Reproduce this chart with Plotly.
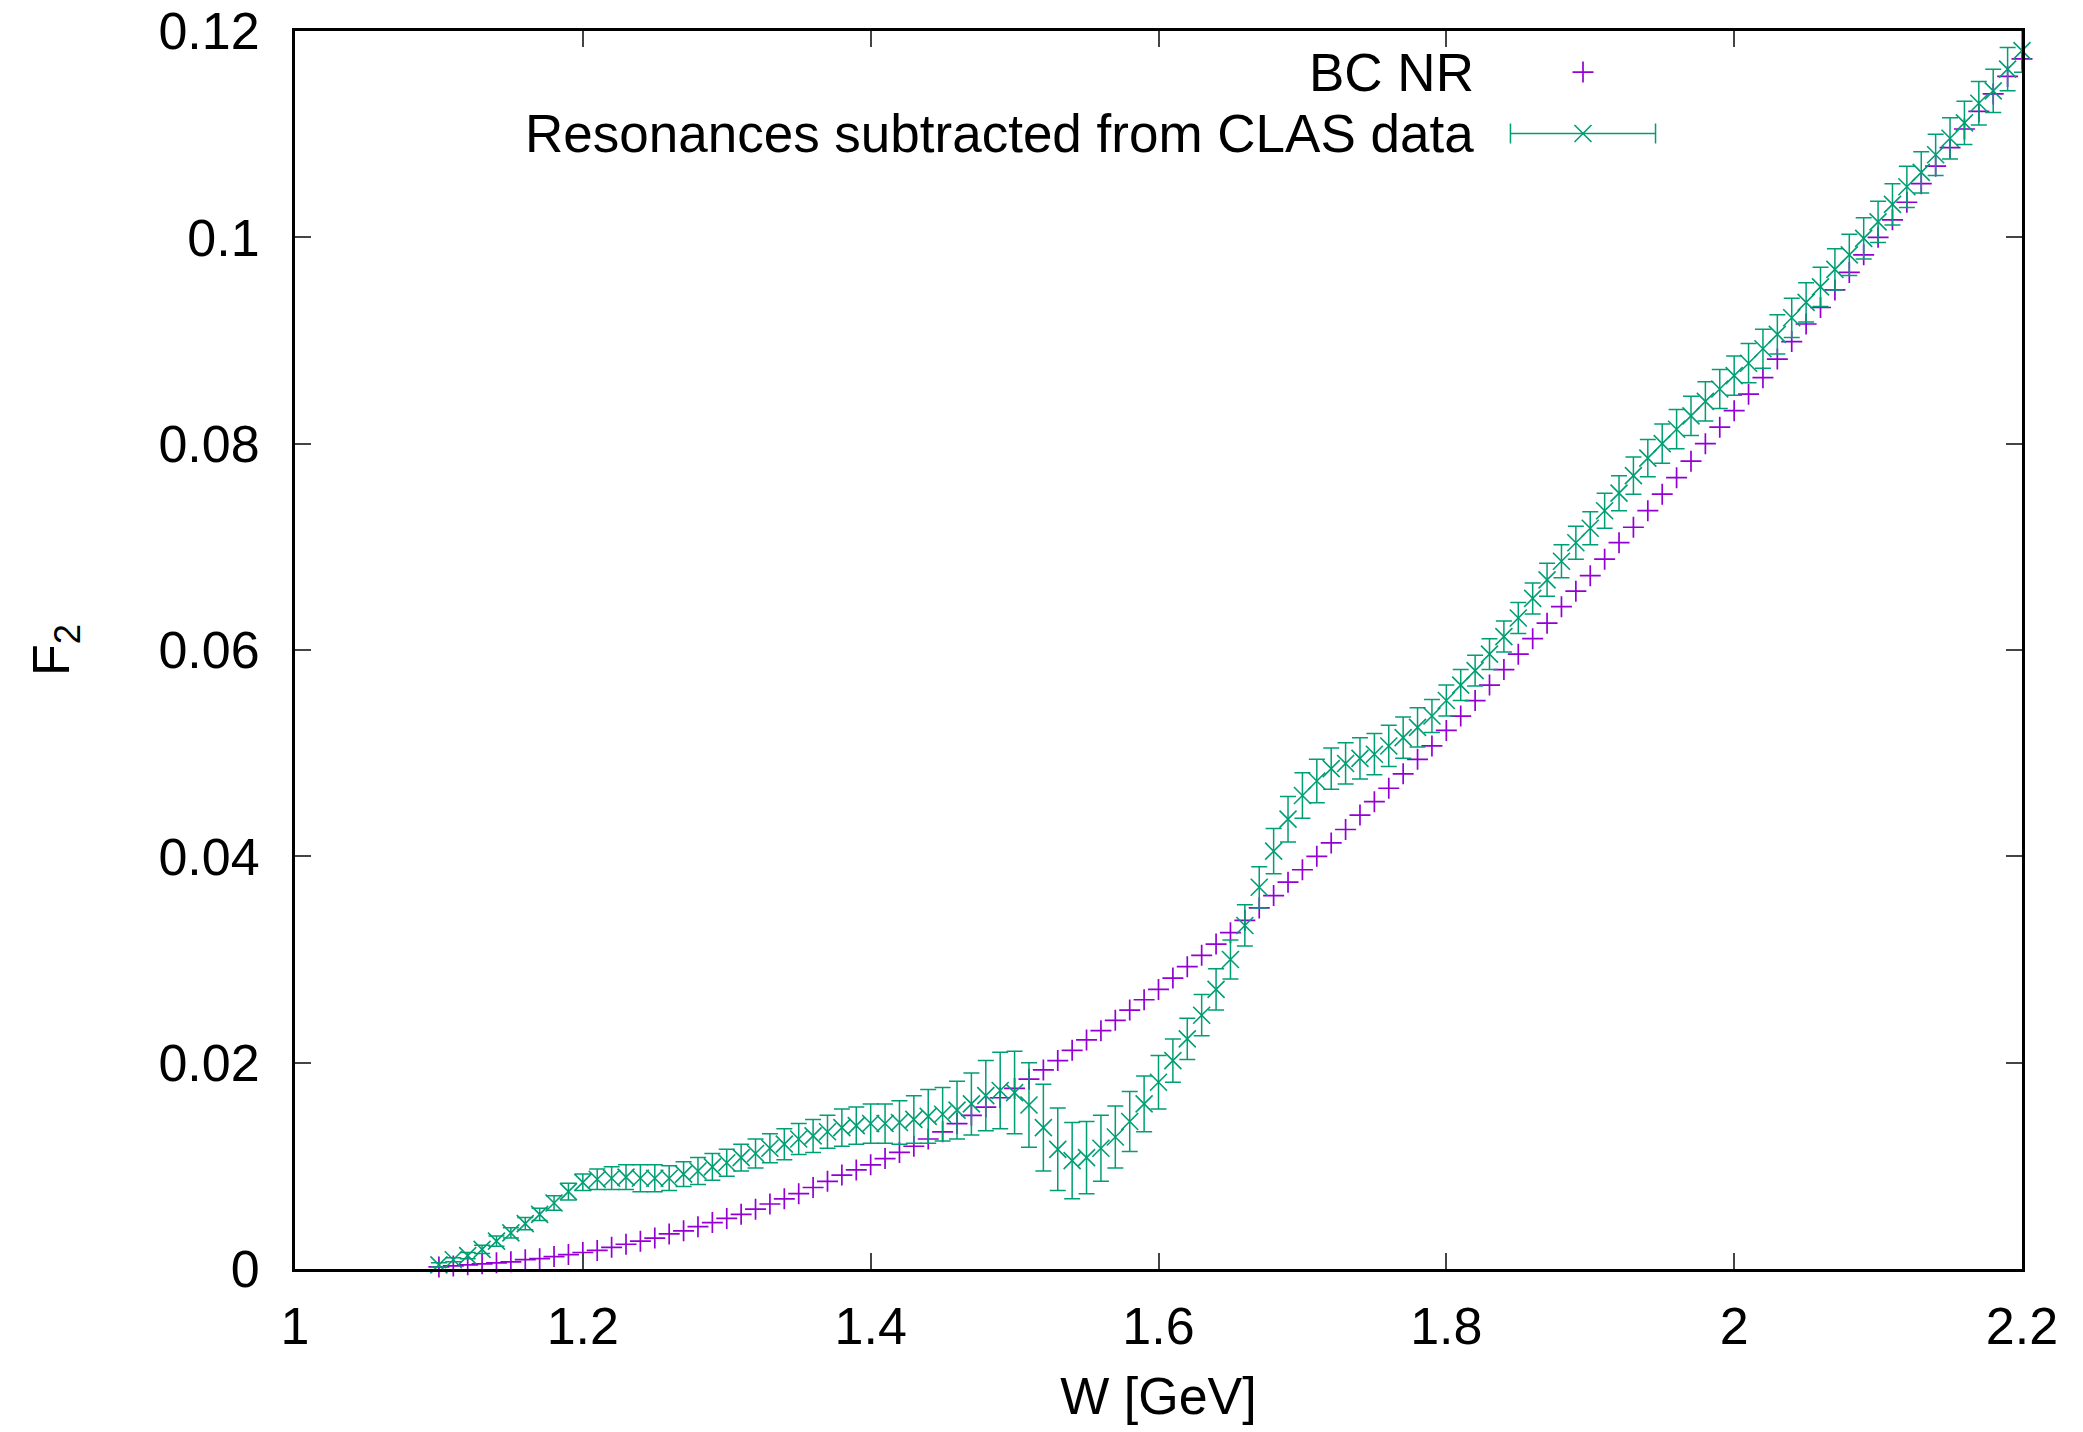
import plotly.graph_objects as go

# ---------------- data ----------------
W = [1.10, 1.11, 1.12, 1.13, 1.14, 1.15, 1.16, 1.17, 1.18, 1.19,
     1.20, 1.21, 1.22, 1.23, 1.24, 1.25, 1.26, 1.27, 1.28, 1.29,
     1.30, 1.31, 1.32, 1.33, 1.34, 1.35, 1.36, 1.37, 1.38, 1.39,
     1.40, 1.41, 1.42, 1.43, 1.44, 1.45, 1.46, 1.47, 1.48, 1.49,
     1.50, 1.51, 1.52, 1.53, 1.54, 1.55, 1.56, 1.57, 1.58, 1.59,
     1.60, 1.61, 1.62, 1.63, 1.64, 1.65, 1.66, 1.67, 1.68, 1.69,
     1.70, 1.71, 1.72, 1.73, 1.74, 1.75, 1.76, 1.77, 1.78, 1.79,
     1.80, 1.81, 1.82, 1.83, 1.84, 1.85, 1.86, 1.87, 1.88, 1.89,
     1.90, 1.91, 1.92, 1.93, 1.94, 1.95, 1.96, 1.97, 1.98, 1.99,
     2.00, 2.01, 2.02, 2.03, 2.04, 2.05, 2.06, 2.07, 2.08, 2.09,
     2.10, 2.11, 2.12, 2.13, 2.14, 2.15, 2.16, 2.17, 2.18, 2.19,
     2.20]

bc_nr = [0.0002, 0.0003, 0.0004, 0.0005, 0.0006, 0.0007, 0.0009, 0.0010, 0.0012, 0.0014,
         0.0016, 0.0018, 0.0021, 0.0024, 0.0027, 0.0030, 0.0034, 0.0037, 0.0041, 0.0045,
         0.0049, 0.0053, 0.0058, 0.0063, 0.0068, 0.0073, 0.0079, 0.0085, 0.0091, 0.0096,
         0.0101, 0.0107, 0.0113, 0.0119, 0.0126, 0.0133, 0.0141, 0.0149, 0.0157, 0.0166,
         0.0175, 0.0184, 0.0193, 0.0202, 0.0212, 0.0222, 0.0231, 0.0241, 0.0251, 0.0261,
         0.0271, 0.0282, 0.0293, 0.0304, 0.0315, 0.0326, 0.0338, 0.0350, 0.0362, 0.0375,
         0.0387, 0.0400, 0.0413, 0.0426, 0.0440, 0.0453, 0.0466, 0.0480, 0.0494, 0.0507,
         0.0522, 0.0536, 0.0551, 0.0566, 0.0581, 0.0596, 0.0611, 0.0626, 0.0642, 0.0657,
         0.0672, 0.0688, 0.0704, 0.0719, 0.0735, 0.0751, 0.0767, 0.0783, 0.0800, 0.0816,
         0.0832, 0.0848, 0.0864, 0.0882, 0.0899, 0.0916, 0.0932, 0.0949, 0.0966, 0.0983,
         0.1000, 0.1017, 0.1034, 0.1052, 0.1069, 0.1087, 0.1105, 0.1122, 0.1139, 0.1156,
         0.1173]

clas_sub = [0.0004, 0.0009, 0.0013, 0.0019, 0.0027, 0.0035, 0.0044, 0.0053, 0.0064, 0.0075,
            0.0084, 0.0087, 0.0088, 0.0089, 0.0088, 0.0088, 0.0088, 0.0092, 0.0095, 0.0099,
            0.0103, 0.0108, 0.0112, 0.0117, 0.0121, 0.0126, 0.0129, 0.0133, 0.0137, 0.0139,
            0.0141, 0.0141, 0.0142, 0.0145, 0.0148, 0.0150, 0.0154, 0.0160, 0.0168, 0.0173,
            0.0171, 0.0159, 0.0137, 0.0116, 0.0105, 0.0108, 0.0117, 0.0128, 0.0143, 0.0160,
            0.0181, 0.0202, 0.0223, 0.0246, 0.0271, 0.0300, 0.0333, 0.0370, 0.0405, 0.0436,
            0.0459, 0.0473, 0.0485, 0.0490, 0.0495, 0.0499, 0.0507, 0.0515, 0.0525, 0.0536,
            0.0551, 0.0566, 0.0580, 0.0596, 0.0613, 0.0631, 0.0650, 0.0668, 0.0686, 0.0704,
            0.0718, 0.0735, 0.0752, 0.0769, 0.0786, 0.0800, 0.0814, 0.0827, 0.0841, 0.0853,
            0.0866, 0.0878, 0.0892, 0.0906, 0.0922, 0.0937, 0.0952, 0.0969, 0.0983, 0.0999,
            0.1015, 0.1032, 0.1049, 0.1063, 0.1080, 0.1096, 0.1111, 0.1130, 0.1142, 0.1163,
            0.1181]

clas_err = [0.0002, 0.0002, 0.0003, 0.0004, 0.0005, 0.0005, 0.0006, 0.0006, 0.0007, 0.0008,
            0.0008, 0.0010, 0.0011, 0.0012, 0.0013, 0.0013, 0.0012, 0.0012, 0.0013, 0.0013,
            0.0013, 0.0013, 0.0014, 0.0014, 0.0015, 0.0015, 0.0016, 0.0016, 0.0018, 0.0018,
            0.0019, 0.0019, 0.0021, 0.0023, 0.0026, 0.0026, 0.0028, 0.0030, 0.0034, 0.0037,
            0.0040, 0.0041, 0.0042, 0.0040, 0.0037, 0.0035, 0.0032, 0.0030, 0.0029, 0.0027,
            0.0026, 0.0021, 0.0020, 0.0020, 0.0020, 0.0019, 0.0020, 0.0020, 0.0022, 0.0022,
            0.0022, 0.0021, 0.0020, 0.0020, 0.0020, 0.0020, 0.0020, 0.0020, 0.0019, 0.0016,
            0.0015, 0.0015, 0.0015, 0.0015, 0.0015, 0.0015, 0.0015, 0.0016, 0.0016, 0.0016,
            0.0016, 0.0017, 0.0017, 0.0018, 0.0018, 0.0019, 0.0019, 0.0019, 0.0019, 0.0019,
            0.0019, 0.0019, 0.0019, 0.0019, 0.0019, 0.0019, 0.0019, 0.0020, 0.0020, 0.0020,
            0.0020, 0.0020, 0.0020, 0.0020, 0.0020, 0.0020, 0.0021, 0.0021, 0.0021, 0.0021,
            0.0021]

x_ticks = [1.0, 1.2, 1.4, 1.6, 1.8, 2.0, 2.2]
x_tick_labels = ["1", "1.2", "1.4", "1.6", "1.8", "2", "2.2"]
y_ticks = [0.0, 0.02, 0.04, 0.06, 0.08, 0.10, 0.12]
y_tick_labels = ["0", "0.02", "0.04", "0.06", "0.08", "0.1", "0.12"]

series_names = ["BC NR", "Resonances subtracted from CLAS data"]

# ---------------- style ----------------
PURPLE = "#9400d3"
GREEN = "#009e73"
FONT = "Liberation Sans, Arial, Helvetica, sans-serif"
FS = 52
FS_LEG = 53

fig = go.Figure()

fig.add_trace(go.Scatter(
    x=W, y=bc_nr, mode="markers", name=series_names[0], showlegend=False,
    cliponaxis=False,
    marker=dict(symbol="cross-thin", size=15, color=PURPLE,
                line=dict(color=PURPLE, width=1.7)),
))

fig.add_trace(go.Scatter(
    x=W, y=clas_sub, mode="markers", name=series_names[1], showlegend=False,
    cliponaxis=False,
    error_y=dict(type="data", array=clas_err, visible=True, color=GREEN,
                 thickness=1.5, width=8),
    marker=dict(symbol="x-thin", size=17, color=GREEN,
                line=dict(color=GREEN, width=1.6)),
))

# ----- custom legend (text on the left, key on the right, like gnuplot) -----
LEG_TEXT_X = 0.684
LEG_KEY_X = 0.7458
LEG_Y = [0.9668, 0.9172]
LEG_HALF_LINE = 0.042

fig.add_trace(go.Scatter(
    x=[LEG_KEY_X], y=[LEG_Y[0]], xaxis="x2", yaxis="y2", mode="markers",
    showlegend=False, hoverinfo="skip", cliponaxis=False,
    marker=dict(symbol="cross-thin", size=15, color=PURPLE,
                line=dict(color=PURPLE, width=1.7)),
))
fig.add_trace(go.Scatter(
    x=[LEG_KEY_X], y=[LEG_Y[1]], xaxis="x2", yaxis="y2", mode="markers",
    showlegend=False, hoverinfo="skip", cliponaxis=False,
    error_x=dict(type="constant", value=LEG_HALF_LINE, visible=True, color=GREEN,
                 thickness=1.5, width=10),
    marker=dict(symbol="x-thin", size=17, color=GREEN,
                line=dict(color=GREEN, width=1.6)),
))

for name, yy in zip(series_names, LEG_Y):
    fig.add_annotation(text=name, x=LEG_TEXT_X, y=yy, xref="paper", yref="paper",
                       xanchor="right", yanchor="middle", showarrow=False,
                       font=dict(family=FONT, size=FS_LEG, color="black"))

axis_common = dict(
    showline=True, linecolor="black", linewidth=3, mirror="allticks",
    ticks="inside", ticklen=16, tickwidth=1.5, tickcolor="#444",
    showgrid=False, zeroline=False, automargin=False,
    tickfont=dict(family=FONT, size=FS, color="black"),
)

fig.update_layout(
    width=2083, height=1432,
    margin=dict(l=295, r=61, t=31, b=163, autoexpand=False),
    paper_bgcolor="white", plot_bgcolor="white",
    showlegend=False,
    xaxis=dict(range=[1.0, 2.2], tickvals=x_ticks, ticktext=x_tick_labels,
               ticklabelstandoff=10,
               title=dict(text="W [GeV]", font=dict(family=FONT, size=FS, color="black"),
                          standoff=24),
               **axis_common),
    yaxis=dict(range=[0.0, 0.12], tickvals=y_ticks, ticktext=y_tick_labels,
               ticklabelstandoff=22,
               title=dict(text="F<sub>2</sub>", font=dict(family=FONT, size=FS, color="black"),
                          standoff=73),
               **axis_common),
    xaxis2=dict(overlaying="x", range=[0, 1], visible=False, fixedrange=True),
    yaxis2=dict(overlaying="y", range=[0, 1], visible=False, fixedrange=True),
)

fig.write_html("out.html")
